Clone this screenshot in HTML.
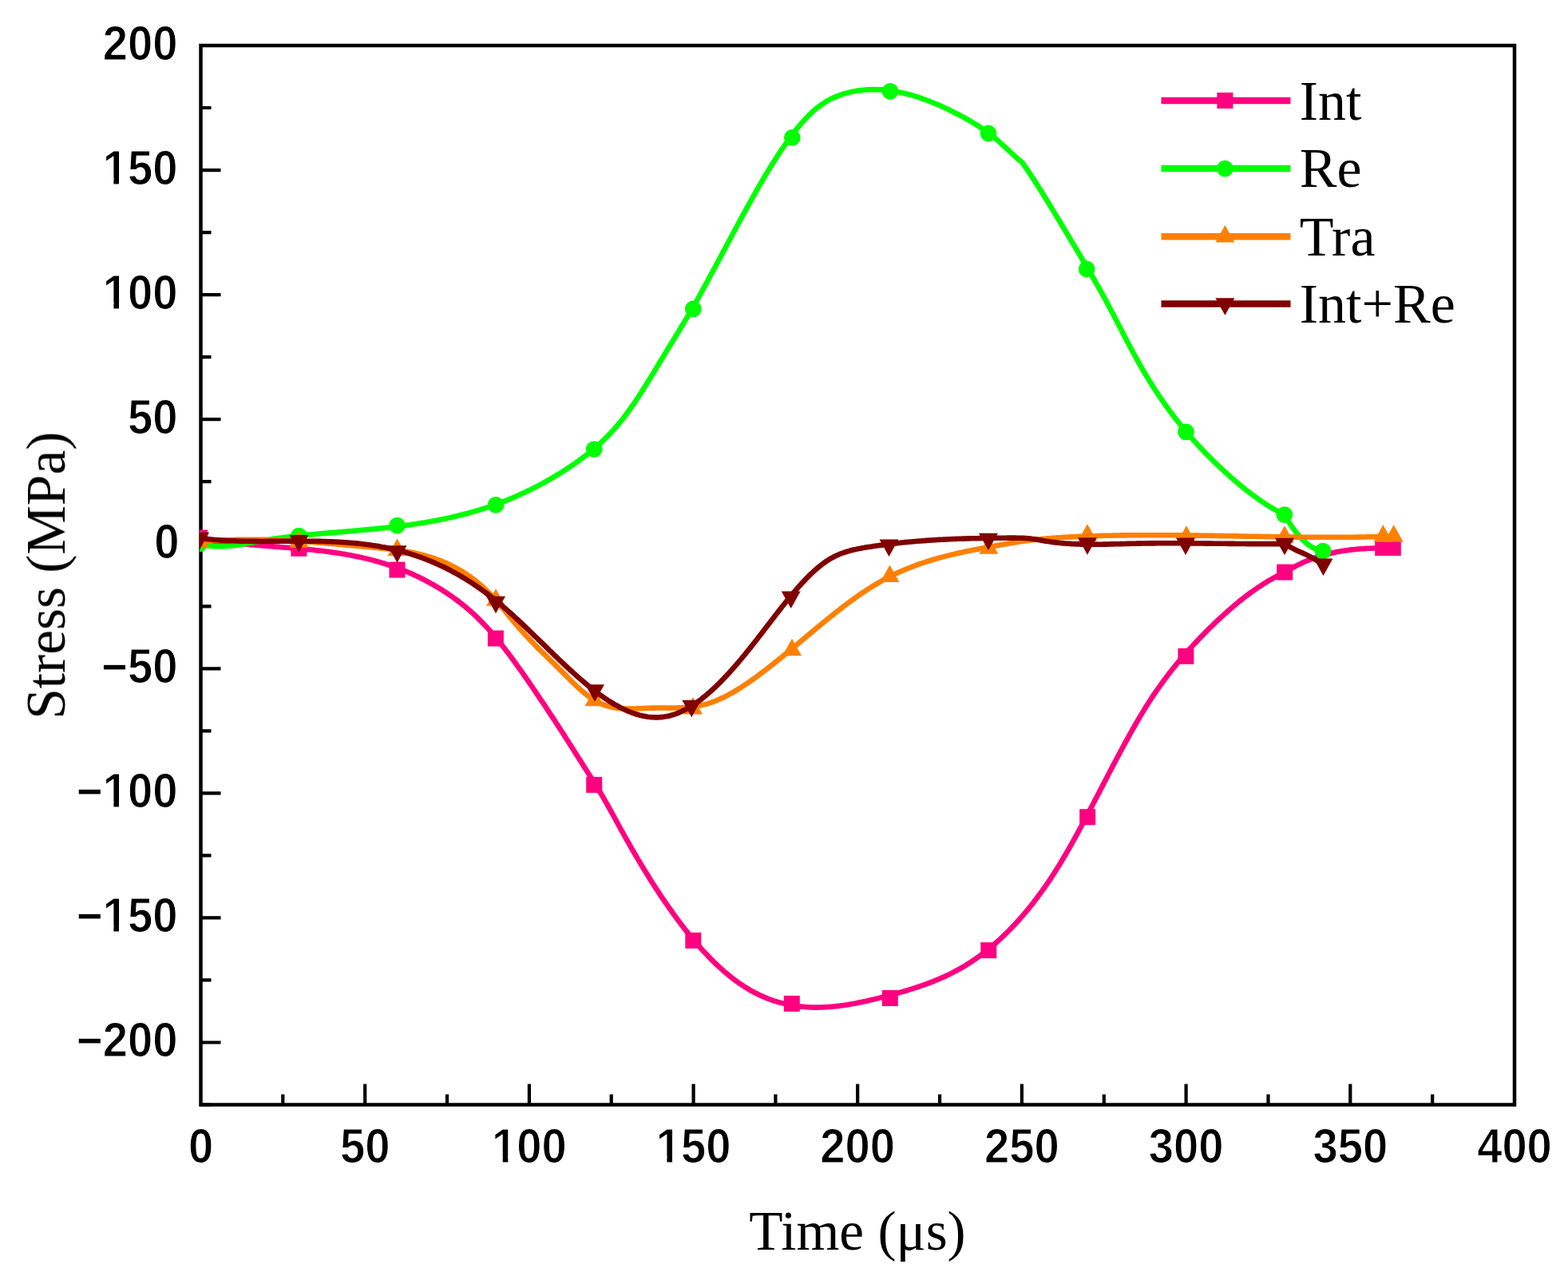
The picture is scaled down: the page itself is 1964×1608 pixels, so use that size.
<!DOCTYPE html>
<html><head><meta charset="utf-8"><title>Stress vs Time</title>
<style>html,body{margin:0;padding:0;background:#fff}svg{display:block}</style></head>
<body>
<svg width="1964" height="1608" viewBox="0 0 1964 1608">
<rect width="1964" height="1608" fill="#fff"/>
<path d="M251.5,1383.5h13 M251.5,1305.5h25 M251.5,1227.4h13 M251.5,1149.4h25 M251.5,1071.4h13 M251.5,993.4h25 M251.5,915.3h13 M251.5,837.3h25 M251.5,759.3h13 M251.5,681.2h25 M251.5,603.2h13 M251.5,525.2h25 M251.5,447.1h13 M251.5,369.1h25 M251.5,291.1h13 M251.5,213.1h25 M251.5,135.0h13 M251.5,57.0h25 M354.3,1383.5v-13 M457.2,1383.5v-26 M560.0,1383.5v-13 M662.9,1383.5v-26 M765.7,1383.5v-13 M868.6,1383.5v-26 M971.4,1383.5v-13 M1074.2,1383.5v-26 M1177.1,1383.5v-13 M1279.9,1383.5v-26 M1382.8,1383.5v-13 M1485.6,1383.5v-26 M1588.5,1383.5v-13 M1691.3,1383.5v-26 M1794.2,1383.5v-13" stroke="#000" stroke-width="4.2" fill="none"/>
<rect x="251.5" y="57.0" width="1645.5" height="1326.5" fill="none" stroke="#000" stroke-width="4.5"/>
<defs><clipPath id="pa"><rect x="250.0" y="57.0" width="1647.0" height="1326.5"/></clipPath></defs>
<g clip-path="url(#pa)">
<path d="M250.1,673.5 L252.1,673.9 L254.1,674.3 L256.1,674.6 L258.1,675.0 L260.1,675.3 L262.1,675.7 L264.1,676.0 L266.1,676.3 L268.1,676.6 L270.1,677.0 L272.1,677.3 L274.1,677.5 L276.1,677.8 L278.1,678.1 L280.1,678.4 L282.1,678.6 L284.1,678.9 L286.1,679.1 L288.1,679.4 L290.1,679.6 L292.1,679.9 L294.1,680.1 L296.1,680.3 L298.1,680.5 L300.1,680.7 L302.1,680.9 L304.1,681.1 L306.1,681.3 L308.1,681.5 L310.1,681.7 L312.1,681.9 L314.1,682.1 L316.1,682.3 L318.1,682.5 L320.1,682.6 L322.1,682.8 L324.1,683.0 L326.1,683.1 L328.1,683.3 L330.1,683.5 L332.1,683.6 L334.1,683.8 L336.1,683.9 L338.1,684.1 L340.1,684.3 L342.1,684.4 L344.1,684.6 L346.1,684.7 L348.1,684.9 L350.1,685.0 L352.1,685.2 L354.1,685.4 L356.1,685.5 L358.1,685.7 L360.1,685.8 L362.1,686.0 L364.1,686.2 L366.1,686.3 L368.1,686.5 L370.1,686.7 L372.1,686.8 L374.1,687.0 L376.1,687.2 L378.1,687.4 L380.1,687.5 L382.1,687.7 L384.1,687.9 L386.1,688.1 L388.1,688.3 L390.1,688.5 L392.1,688.7 L394.1,688.9 L396.1,689.2 L398.1,689.4 L400.1,689.6 L402.1,689.8 L404.1,690.1 L406.1,690.3 L408.1,690.6 L410.1,690.8 L412.1,691.1 L414.1,691.4 L416.1,691.6 L418.1,691.9 L420.1,692.2 L422.1,692.5 L424.1,692.8 L426.1,693.1 L428.1,693.5 L430.1,693.8 L432.1,694.1 L434.1,694.5 L436.1,694.8 L438.1,695.2 L440.1,695.6 L442.1,696.0 L444.1,696.4 L446.1,696.8 L448.1,697.2 L450.1,697.6 L452.1,698.0 L454.1,698.5 L456.1,698.9 L458.1,699.4 L460.1,699.9 L462.1,700.4 L464.1,700.9 L466.1,701.4 L468.1,701.9 L470.1,702.5 L472.1,703.0 L474.1,703.6 L476.1,704.2 L478.1,704.8 L480.1,705.4 L482.1,706.0 L484.1,706.6 L486.1,707.3 L488.1,707.9 L490.1,708.6 L492.1,709.3 L494.1,710.0 L496.1,710.7 L498.1,711.5 L500.1,712.2 L502.1,713.0 L504.1,713.8 L506.1,714.6 L508.1,715.4 L510.1,716.2 L512.1,717.1 L514.1,717.9 L516.1,718.8 L518.1,719.7 L520.1,720.7 L522.1,721.6 L524.1,722.5 L526.1,723.5 L528.1,724.5 L530.1,725.5 L532.1,726.5 L534.1,727.6 L536.1,728.7 L538.1,729.7 L540.1,730.8 L542.1,732.0 L544.1,733.1 L546.1,734.3 L548.1,735.5 L550.1,736.7 L552.1,737.9 L554.1,739.1 L556.1,740.4 L558.1,741.7 L560.1,743.0 L562.1,744.4 L564.1,745.7 L566.1,747.1 L568.1,748.6 L570.1,750.0 L572.1,751.5 L574.1,753.0 L576.1,754.5 L578.1,756.1 L580.1,757.7 L582.1,759.3 L584.1,761.0 L586.1,762.7 L588.1,764.4 L590.1,766.2 L592.1,768.0 L594.1,769.8 L596.1,771.7 L598.1,773.6 L600.1,775.6 L602.1,777.6 L604.1,779.6 L606.1,781.7 L608.1,783.8 L610.1,785.9 L612.1,788.1 L614.1,790.4 L616.1,792.7 L618.1,795.0 L620.1,797.4 L622.1,799.8 L624.1,802.2 L626.1,804.7 L628.1,807.2 L630.1,809.7 L632.1,812.3 L634.1,814.9 L636.1,817.5 L638.1,820.1 L640.1,822.8 L642.1,825.5 L644.1,828.2 L646.1,831.0 L648.1,833.8 L650.1,836.6 L652.1,839.4 L654.1,842.2 L656.1,845.1 L658.1,847.9 L660.1,850.8 L662.1,853.7 L664.1,856.6 L666.1,859.5 L668.1,862.5 L670.1,865.4 L672.1,868.4 L674.1,871.3 L676.1,874.3 L678.1,877.3 L680.1,880.2 L682.1,883.2 L684.1,886.3 L686.1,889.3 L688.1,892.3 L690.1,895.3 L692.1,898.4 L694.1,901.4 L696.1,904.5 L698.1,907.6 L700.1,910.6 L702.1,913.7 L704.1,916.8 L706.1,919.9 L708.1,923.1 L710.1,926.2 L712.1,929.3 L714.1,932.5 L716.1,935.6 L718.1,938.8 L720.1,942.0 L722.1,945.1 L724.1,948.3 L726.1,951.4 L728.1,954.6 L730.1,957.8 L732.1,960.9 L734.1,964.0 L736.1,967.2 L738.1,970.3 L740.1,973.4 L742.1,976.6 L744.1,979.7 L746.1,982.9 L748.1,986.1 L750.1,989.4 L752.1,992.7 L754.1,996.1 L756.1,999.6 L758.1,1003.1 L760.1,1006.6 L762.1,1010.2 L764.1,1013.8 L766.1,1017.4 L768.1,1021.0 L770.1,1024.7 L772.1,1028.4 L774.1,1032.0 L776.1,1035.7 L778.1,1039.3 L780.1,1042.9 L782.1,1046.5 L784.1,1050.1 L786.1,1053.6 L788.1,1057.2 L790.1,1060.7 L792.1,1064.1 L794.1,1067.6 L796.1,1071.0 L798.1,1074.4 L800.1,1077.8 L802.1,1081.1 L804.1,1084.5 L806.1,1087.8 L808.1,1091.0 L810.1,1094.3 L812.1,1097.5 L814.1,1100.7 L816.1,1103.9 L818.1,1107.0 L820.1,1110.1 L822.1,1113.2 L824.1,1116.3 L826.1,1119.3 L828.1,1122.3 L830.1,1125.3 L832.1,1128.2 L834.1,1131.1 L836.1,1134.0 L838.1,1136.9 L840.1,1139.7 L842.1,1142.5 L844.1,1145.3 L846.1,1148.0 L848.1,1150.8 L850.1,1153.4 L852.1,1156.1 L854.1,1158.7 L856.1,1161.3 L858.1,1163.9 L860.1,1166.4 L862.1,1168.9 L864.1,1171.4 L866.1,1173.8 L868.1,1176.2 L870.1,1178.6 L872.1,1180.9 L874.1,1183.3 L876.1,1185.5 L878.1,1187.8 L880.1,1190.0 L882.1,1192.2 L884.1,1194.3 L886.1,1196.4 L888.1,1198.5 L890.1,1200.6 L892.1,1202.6 L894.1,1204.6 L896.1,1206.5 L898.1,1208.4 L900.1,1210.3 L902.1,1212.1 L904.1,1213.9 L906.1,1215.7 L908.1,1217.4 L910.1,1219.1 L912.1,1220.8 L914.1,1222.4 L916.1,1224.0 L918.1,1225.6 L920.1,1227.1 L922.1,1228.6 L924.1,1230.0 L926.1,1231.4 L928.1,1232.8 L930.1,1234.1 L932.1,1235.4 L934.1,1236.7 L936.1,1237.9 L938.1,1239.1 L940.1,1240.3 L942.1,1241.4 L944.1,1242.5 L946.1,1243.5 L948.1,1244.5 L950.1,1245.5 L952.1,1246.5 L954.1,1247.4 L956.1,1248.2 L958.1,1249.1 L960.1,1249.9 L962.1,1250.7 L964.1,1251.5 L966.1,1252.2 L968.1,1252.9 L970.1,1253.6 L972.1,1254.2 L974.1,1254.8 L976.1,1255.4 L978.1,1255.9 L980.1,1256.4 L982.1,1256.9 L984.1,1257.4 L986.1,1257.8 L988.1,1258.3 L990.1,1258.6 L992.1,1259.0 L994.1,1259.3 L996.1,1259.7 L998.1,1259.9 L1000.1,1260.2 L1002.1,1260.4 L1004.1,1260.7 L1006.1,1260.8 L1008.1,1261.0 L1010.1,1261.2 L1012.1,1261.3 L1014.1,1261.4 L1016.1,1261.5 L1018.1,1261.5 L1020.1,1261.6 L1022.1,1261.6 L1024.1,1261.6 L1026.1,1261.5 L1028.1,1261.5 L1030.1,1261.4 L1032.1,1261.4 L1034.1,1261.3 L1036.1,1261.1 L1038.1,1261.0 L1040.1,1260.9 L1042.1,1260.7 L1044.1,1260.5 L1046.1,1260.3 L1048.1,1260.1 L1050.1,1259.9 L1052.1,1259.6 L1054.1,1259.3 L1056.1,1259.1 L1058.1,1258.8 L1060.1,1258.5 L1062.1,1258.2 L1064.1,1257.8 L1066.1,1257.5 L1068.1,1257.1 L1070.1,1256.8 L1072.1,1256.4 L1074.1,1256.0 L1076.1,1255.6 L1078.1,1255.2 L1080.1,1254.8 L1082.1,1254.3 L1084.1,1253.9 L1086.1,1253.5 L1088.1,1253.0 L1090.1,1252.5 L1092.1,1252.1 L1094.1,1251.6 L1096.1,1251.1 L1098.1,1250.6 L1100.1,1250.1 L1102.1,1249.6 L1104.1,1249.1 L1106.1,1248.6 L1108.1,1248.1 L1110.1,1247.5 L1112.1,1247.0 L1114.1,1246.5 L1116.1,1245.9 L1118.1,1245.4 L1120.1,1244.8 L1122.1,1244.3 L1124.1,1243.7 L1126.1,1243.2 L1128.1,1242.6 L1130.1,1242.1 L1132.1,1241.5 L1134.1,1240.9 L1136.1,1240.3 L1138.1,1239.7 L1140.1,1239.1 L1142.1,1238.5 L1144.1,1237.8 L1146.1,1237.2 L1148.1,1236.5 L1150.1,1235.9 L1152.1,1235.2 L1154.1,1234.5 L1156.1,1233.8 L1158.1,1233.1 L1160.1,1232.4 L1162.1,1231.7 L1164.1,1230.9 L1166.1,1230.1 L1168.1,1229.4 L1170.1,1228.6 L1172.1,1227.7 L1174.1,1226.9 L1176.1,1226.1 L1178.1,1225.2 L1180.1,1224.3 L1182.1,1223.4 L1184.1,1222.5 L1186.1,1221.6 L1188.1,1220.6 L1190.1,1219.6 L1192.1,1218.6 L1194.1,1217.6 L1196.1,1216.5 L1198.1,1215.5 L1200.1,1214.4 L1202.1,1213.3 L1204.1,1212.1 L1206.1,1211.0 L1208.1,1209.8 L1210.1,1208.6 L1212.1,1207.3 L1214.1,1206.0 L1216.1,1204.8 L1218.1,1203.4 L1220.1,1202.1 L1222.1,1200.7 L1224.1,1199.3 L1226.1,1197.9 L1228.1,1196.4 L1230.1,1194.9 L1232.1,1193.4 L1234.1,1191.9 L1236.1,1190.3 L1238.1,1188.7 L1240.1,1187.0 L1242.1,1185.4 L1244.1,1183.7 L1246.1,1182.0 L1248.1,1180.2 L1250.1,1178.4 L1252.1,1176.6 L1254.1,1174.7 L1256.1,1172.9 L1258.1,1170.9 L1260.1,1169.0 L1262.1,1167.0 L1264.1,1165.0 L1266.1,1162.9 L1268.1,1160.9 L1270.1,1158.8 L1272.1,1156.6 L1274.1,1154.4 L1276.1,1152.2 L1278.1,1150.0 L1280.1,1147.7 L1282.1,1145.4 L1284.1,1143.0 L1286.1,1140.6 L1288.1,1138.2 L1290.1,1135.7 L1292.1,1133.2 L1294.1,1130.7 L1296.1,1128.1 L1298.1,1125.5 L1300.1,1122.8 L1302.1,1120.1 L1304.1,1117.4 L1306.1,1114.6 L1308.1,1111.8 L1310.1,1108.9 L1312.1,1106.0 L1314.1,1103.1 L1316.1,1100.1 L1318.1,1097.0 L1320.1,1093.9 L1322.1,1090.8 L1324.1,1087.6 L1326.1,1084.4 L1328.1,1081.1 L1330.1,1077.8 L1332.1,1074.4 L1334.1,1071.0 L1336.1,1067.6 L1338.1,1064.1 L1340.1,1060.6 L1342.1,1057.1 L1344.1,1053.5 L1346.1,1049.9 L1348.1,1046.3 L1350.1,1042.6 L1352.1,1038.9 L1354.1,1035.2 L1356.1,1031.5 L1358.1,1027.8 L1360.1,1024.0 L1362.1,1020.2 L1364.1,1016.4 L1366.1,1012.6 L1368.1,1008.8 L1370.1,1005.0 L1372.1,1001.1 L1374.1,997.3 L1376.1,993.4 L1378.1,989.6 L1380.1,985.7 L1382.1,981.9 L1384.1,978.0 L1386.1,974.2 L1388.1,970.3 L1390.1,966.5 L1392.1,962.7 L1394.1,958.8 L1396.1,955.0 L1398.1,951.3 L1400.1,947.5 L1402.1,943.7 L1404.1,940.0 L1406.1,936.3 L1408.1,932.6 L1410.1,928.9 L1412.1,925.3 L1414.1,921.6 L1416.1,918.0 L1418.1,914.5 L1420.1,911.0 L1422.1,907.5 L1424.1,904.0 L1426.1,900.6 L1428.1,897.2 L1430.1,893.9 L1432.1,890.6 L1434.1,887.3 L1436.1,884.1 L1438.1,880.9 L1440.1,877.8 L1442.1,874.7 L1444.1,871.7 L1446.1,868.7 L1448.1,865.8 L1450.1,862.9 L1452.1,860.1 L1454.1,857.3 L1456.1,854.5 L1458.1,851.8 L1460.1,849.1 L1462.1,846.4 L1464.1,843.8 L1466.1,841.2 L1468.1,838.7 L1470.1,836.2 L1472.1,833.7 L1474.1,831.3 L1476.1,828.8 L1478.1,826.5 L1480.1,824.1 L1482.1,821.8 L1484.1,819.5 L1486.1,817.2 L1488.1,815.0 L1490.1,812.8 L1492.1,810.6 L1494.1,808.4 L1496.1,806.2 L1498.1,804.1 L1500.1,802.0 L1502.1,799.9 L1504.1,797.8 L1506.1,795.8 L1508.1,793.7 L1510.1,791.7 L1512.1,789.7 L1514.1,787.7 L1516.1,785.7 L1518.1,783.8 L1520.1,781.9 L1522.1,779.9 L1524.1,778.0 L1526.1,776.1 L1528.1,774.3 L1530.1,772.4 L1532.1,770.6 L1534.1,768.8 L1536.1,767.0 L1538.1,765.2 L1540.1,763.4 L1542.1,761.7 L1544.1,760.0 L1546.1,758.3 L1548.1,756.6 L1550.1,755.0 L1552.1,753.3 L1554.1,751.7 L1556.1,750.1 L1558.1,748.6 L1560.1,747.0 L1562.1,745.5 L1564.1,744.0 L1566.1,742.5 L1568.1,741.1 L1570.1,739.6 L1572.1,738.2 L1574.1,736.9 L1576.1,735.5 L1578.1,734.2 L1580.1,732.9 L1582.1,731.6 L1584.1,730.3 L1586.1,729.1 L1588.1,727.9 L1590.1,726.7 L1592.1,725.6 L1594.1,724.5 L1596.1,723.4 L1598.1,722.3 L1600.1,721.3 L1602.1,720.3 L1604.1,719.3 L1606.1,718.3 L1608.1,717.4 L1609.0,717.0 L1611.0,715.7 L1613.0,714.5 L1615.0,713.3 L1617.0,712.2 L1619.0,711.1 L1621.0,710.0 L1623.0,708.9 L1625.0,707.9 L1627.0,706.9 L1629.0,706.0 L1631.0,705.0 L1633.0,704.1 L1635.0,703.2 L1637.0,702.4 L1639.0,701.6 L1641.0,700.8 L1643.0,700.0 L1645.0,699.3 L1647.0,698.6 L1649.0,697.9 L1651.0,697.2 L1653.0,696.6 L1655.0,696.0 L1657.0,695.4 L1659.0,694.8 L1661.0,694.3 L1663.0,693.8 L1665.0,693.3 L1667.0,692.8 L1669.0,692.4 L1671.0,691.9 L1673.0,691.5 L1675.0,691.1 L1677.0,690.7 L1679.0,690.4 L1681.0,690.1 L1683.0,689.7 L1685.0,689.4 L1687.0,689.2 L1689.0,688.9 L1691.0,688.6 L1693.0,688.4 L1695.0,688.2 L1697.0,688.0 L1699.0,687.8 L1701.0,687.6 L1703.0,687.5 L1705.0,687.3 L1707.0,687.2 L1709.0,687.1 L1711.0,686.9 L1713.0,686.8 L1715.0,686.8 L1717.0,686.7 L1719.0,686.6 L1721.0,686.5 L1723.0,686.5 L1725.0,686.5 L1727.0,686.4 L1729.0,686.4 L1731.0,686.4 L1733.0,686.4 L1735.0,686.4 L1737.0,686.4 L1739.0,686.4 L1741.0,686.4 L1743.0,686.4 L1744.8,686.4" stroke="#FF0080" fill="none" stroke-width="6.6" stroke-linejoin="round" stroke-linecap="round"/>
<g><rect x="240.1" y="663.5" width="20" height="20" fill="#FF0080"/><rect x="364.4" y="676.8" width="20" height="20" fill="#FF0080"/><rect x="487.5" y="703.6" width="20" height="20" fill="#FF0080"/><rect x="610.9" y="789.5" width="20" height="20" fill="#FF0080"/><rect x="734.2" y="972.9" width="20" height="20" fill="#FF0080"/><rect x="858.3" y="1167.8" width="20" height="20" fill="#FF0080"/><rect x="981.8" y="1246.9" width="20" height="20" fill="#FF0080"/><rect x="1104.8" y="1240.0" width="20" height="20" fill="#FF0080"/><rect x="1228.3" y="1180.1" width="20" height="20" fill="#FF0080"/><rect x="1352.2" y="1013.2" width="20" height="20" fill="#FF0080"/><rect x="1475.4" y="811.8" width="20" height="20" fill="#FF0080"/><rect x="1599.2" y="706.6" width="20" height="20" fill="#FF0080"/><rect x="1722.2" y="676.0" width="20" height="20" fill="#FF0080"/><rect x="1734.8" y="676.0" width="20" height="20" fill="#FF0080"/></g>
<path d="M250.1,681.0 L252.1,681.5 L254.1,682.0 L256.1,682.4 L258.1,682.8 L260.1,683.2 L262.1,683.4 L264.1,683.7 L266.1,683.9 L268.1,684.0 L270.1,684.1 L272.1,684.2 L274.1,684.3 L276.1,684.3 L278.1,684.2 L280.1,684.2 L282.1,684.1 L284.1,684.0 L286.1,683.8 L288.1,683.6 L290.1,683.4 L292.1,683.2 L294.1,683.0 L296.1,682.7 L298.1,682.4 L300.1,682.1 L302.1,681.8 L304.1,681.5 L306.1,681.2 L308.1,680.8 L310.1,680.5 L312.1,680.1 L314.1,679.7 L316.1,679.4 L318.1,679.0 L320.1,678.6 L322.1,678.3 L324.1,677.9 L326.1,677.5 L328.1,677.2 L330.1,676.8 L332.1,676.5 L334.1,676.2 L336.1,675.9 L338.1,675.5 L340.1,675.2 L342.1,674.9 L344.1,674.7 L346.1,674.4 L348.1,674.1 L350.1,673.8 L352.1,673.5 L354.1,673.3 L356.1,673.0 L358.1,672.8 L360.1,672.5 L362.1,672.3 L364.1,672.1 L366.1,671.8 L368.1,671.6 L370.1,671.4 L372.1,671.2 L374.1,671.0 L376.1,670.7 L378.1,670.5 L380.1,670.3 L382.1,670.1 L384.1,669.9 L386.1,669.8 L388.1,669.6 L390.1,669.4 L392.1,669.2 L394.1,669.0 L396.1,668.8 L398.1,668.6 L400.1,668.5 L402.1,668.3 L404.1,668.1 L406.1,667.9 L408.1,667.8 L410.1,667.6 L412.1,667.4 L414.1,667.2 L416.1,667.1 L418.1,666.9 L420.1,666.7 L422.1,666.6 L424.1,666.4 L426.1,666.2 L428.1,666.1 L430.1,665.9 L432.1,665.7 L434.1,665.6 L436.1,665.4 L438.1,665.2 L440.1,665.0 L442.1,664.9 L444.1,664.7 L446.1,664.5 L448.1,664.3 L450.1,664.2 L452.1,664.0 L454.1,663.8 L456.1,663.6 L458.1,663.4 L460.1,663.3 L462.1,663.1 L464.1,662.9 L466.1,662.7 L468.1,662.5 L470.1,662.3 L472.1,662.1 L474.1,661.9 L476.1,661.7 L478.1,661.5 L480.1,661.3 L482.1,661.1 L484.1,660.9 L486.1,660.6 L488.1,660.4 L490.1,660.2 L492.1,659.9 L494.1,659.7 L496.1,659.5 L498.1,659.2 L500.1,659.0 L502.1,658.7 L504.1,658.5 L506.1,658.2 L508.1,658.0 L510.1,657.7 L512.1,657.4 L514.1,657.1 L516.1,656.8 L518.1,656.5 L520.1,656.3 L522.1,656.0 L524.1,655.6 L526.1,655.3 L528.1,655.0 L530.1,654.7 L532.1,654.4 L534.1,654.0 L536.1,653.7 L538.1,653.3 L540.1,653.0 L542.1,652.6 L544.1,652.2 L546.1,651.9 L548.1,651.5 L550.1,651.1 L552.1,650.7 L554.1,650.3 L556.1,649.9 L558.1,649.5 L560.1,649.0 L562.1,648.6 L564.1,648.1 L566.1,647.7 L568.1,647.2 L570.1,646.8 L572.1,646.3 L574.1,645.8 L576.1,645.3 L578.1,644.8 L580.1,644.3 L582.1,643.8 L584.1,643.3 L586.1,642.7 L588.1,642.2 L590.1,641.6 L592.1,641.0 L594.1,640.5 L596.1,639.9 L598.1,639.3 L600.1,638.7 L602.1,638.1 L604.1,637.4 L606.1,636.8 L608.1,636.2 L610.1,635.5 L612.1,634.8 L614.1,634.1 L616.1,633.5 L618.1,632.8 L620.1,632.0 L622.1,631.3 L624.1,630.6 L626.1,629.8 L628.1,629.1 L630.1,628.3 L632.1,627.5 L634.1,626.7 L636.1,625.9 L638.1,625.1 L640.1,624.3 L642.1,623.4 L644.1,622.6 L646.1,621.7 L648.1,620.8 L650.1,620.0 L652.1,619.0 L654.1,618.1 L656.1,617.2 L658.1,616.3 L660.1,615.3 L662.1,614.3 L664.1,613.4 L666.1,612.4 L668.1,611.4 L670.1,610.4 L672.1,609.3 L674.1,608.3 L676.1,607.2 L678.1,606.1 L680.1,605.1 L682.1,604.0 L684.1,602.9 L686.1,601.7 L688.1,600.6 L690.1,599.4 L692.1,598.3 L694.1,597.1 L696.1,595.9 L698.1,594.7 L700.1,593.5 L702.1,592.2 L704.1,591.0 L706.1,589.7 L708.1,588.4 L710.1,587.1 L712.1,585.8 L714.1,584.5 L716.1,583.1 L718.1,581.8 L720.1,580.4 L722.1,579.0 L724.1,577.6 L726.1,576.2 L728.1,574.7 L730.1,573.2 L732.1,571.7 L734.1,570.2 L736.1,568.6 L738.1,567.0 L740.1,565.4 L742.1,563.7 L744.1,562.0 L746.1,560.3 L748.1,558.6 L750.1,556.8 L752.1,554.9 L754.1,553.1 L756.1,551.1 L758.1,549.2 L760.1,547.2 L762.1,545.1 L764.1,543.0 L766.1,540.9 L768.1,538.7 L770.1,536.5 L772.1,534.2 L774.1,531.8 L776.1,529.4 L778.1,527.0 L780.1,524.4 L782.1,521.9 L784.1,519.2 L786.1,516.5 L788.1,513.8 L790.1,511.0 L792.1,508.1 L794.1,505.2 L796.1,502.3 L798.1,499.3 L800.1,496.2 L802.1,493.1 L804.1,490.0 L806.1,486.9 L808.1,483.7 L810.1,480.5 L812.1,477.3 L814.1,474.0 L816.1,470.8 L818.1,467.5 L820.1,464.2 L822.1,460.9 L824.1,457.6 L826.1,454.3 L828.1,451.0 L830.1,447.7 L832.1,444.4 L834.1,441.1 L836.1,437.8 L838.1,434.5 L840.1,431.3 L842.1,428.0 L844.1,424.7 L846.1,421.5 L848.1,418.2 L850.1,414.9 L852.1,411.6 L854.1,408.3 L856.1,405.0 L858.1,401.6 L860.1,398.3 L862.1,394.9 L864.1,391.5 L866.1,388.1 L868.1,384.6 L870.1,381.1 L872.1,377.6 L874.1,374.0 L876.1,370.4 L878.1,366.8 L880.1,363.2 L882.1,359.6 L884.1,355.9 L886.1,352.2 L888.1,348.5 L890.1,344.8 L892.1,341.1 L894.1,337.4 L896.1,333.7 L898.1,329.9 L900.1,326.2 L902.1,322.4 L904.1,318.7 L906.1,314.9 L908.1,311.2 L910.1,307.4 L912.1,303.7 L914.1,299.9 L916.1,296.2 L918.1,292.5 L920.1,288.7 L922.1,285.0 L924.1,281.3 L926.1,277.6 L928.1,273.9 L930.1,270.2 L932.1,266.6 L934.1,262.9 L936.1,259.3 L938.1,255.7 L940.1,252.1 L942.1,248.5 L944.1,244.9 L946.1,241.4 L948.1,237.9 L950.1,234.4 L952.1,230.9 L954.1,227.5 L956.1,224.1 L958.1,220.7 L960.1,217.4 L962.1,214.1 L964.1,210.8 L966.1,207.5 L968.1,204.3 L970.1,201.2 L972.1,198.0 L974.1,194.9 L976.1,191.9 L978.1,188.9 L980.1,185.9 L982.1,183.0 L984.1,180.1 L986.1,177.2 L988.1,174.5 L990.1,171.7 L992.1,169.0 L994.1,166.4 L996.1,163.8 L998.1,161.3 L1000.1,158.9 L1002.1,156.5 L1004.1,154.2 L1006.1,151.9 L1008.1,149.7 L1010.1,147.6 L1012.1,145.5 L1014.1,143.5 L1016.1,141.6 L1018.1,139.7 L1020.1,137.9 L1022.1,136.3 L1024.1,134.6 L1026.1,133.1 L1028.1,131.6 L1030.1,130.2 L1032.1,128.9 L1034.1,127.6 L1036.1,126.4 L1038.1,125.3 L1040.1,124.3 L1042.1,123.3 L1044.1,122.3 L1046.1,121.4 L1048.1,120.6 L1050.1,119.8 L1052.1,119.1 L1054.1,118.4 L1056.1,117.7 L1058.1,117.1 L1060.1,116.6 L1062.1,116.1 L1064.1,115.6 L1066.1,115.1 L1068.1,114.7 L1070.1,114.3 L1072.1,114.0 L1074.1,113.6 L1076.1,113.4 L1078.1,113.1 L1080.1,112.9 L1082.1,112.7 L1084.1,112.5 L1086.1,112.4 L1088.1,112.3 L1090.1,112.2 L1092.1,112.1 L1094.1,112.1 L1096.1,112.1 L1098.1,112.1 L1100.1,112.2 L1102.1,112.3 L1104.1,112.4 L1106.1,112.6 L1108.1,112.7 L1110.1,112.9 L1112.1,113.1 L1114.1,113.4 L1116.1,113.7 L1118.1,114.0 L1120.1,114.3 L1122.1,114.6 L1124.1,115.0 L1126.1,115.4 L1128.1,115.8 L1130.1,116.2 L1132.1,116.7 L1134.1,117.2 L1136.1,117.7 L1138.1,118.2 L1140.1,118.7 L1142.1,119.3 L1144.1,119.9 L1146.1,120.5 L1148.1,121.1 L1150.1,121.7 L1152.1,122.4 L1154.1,123.1 L1156.1,123.8 L1158.1,124.5 L1160.1,125.2 L1162.1,126.0 L1164.1,126.8 L1166.1,127.6 L1168.1,128.4 L1170.1,129.2 L1172.1,130.0 L1174.1,130.9 L1176.1,131.7 L1178.1,132.6 L1180.1,133.5 L1182.1,134.4 L1184.1,135.4 L1186.1,136.3 L1188.1,137.2 L1190.1,138.2 L1192.1,139.2 L1194.1,140.2 L1196.1,141.2 L1198.1,142.2 L1200.1,143.2 L1202.1,144.3 L1204.1,145.3 L1206.1,146.4 L1208.1,147.5 L1210.1,148.6 L1212.1,149.7 L1214.1,150.9 L1216.1,152.1 L1218.1,153.3 L1220.1,154.5 L1222.1,155.7 L1224.1,157.0 L1226.1,158.3 L1228.1,159.6 L1230.1,161.0 L1232.1,162.4 L1234.1,163.8 L1236.1,165.2 L1238.1,166.7 L1240.1,168.2 L1242.1,169.8 L1244.1,171.4 L1246.1,173.0 L1248.1,174.6 L1250.1,176.3 L1252.1,178.1 L1254.1,179.9 L1256.1,181.7 L1258.1,183.5 L1260.1,185.3 L1262.1,187.2 L1264.1,189.0 L1266.1,190.9 L1268.1,192.7 L1270.1,194.6 L1272.1,196.4 L1274.1,198.2 L1276.1,199.9 L1278.1,201.6 L1280.1,203.3 L1280.4,203.5 L1282.4,206.4 L1284.4,209.3 L1286.4,212.2 L1288.4,215.1 L1290.4,218.1 L1292.4,221.2 L1294.4,224.2 L1296.4,227.3 L1298.4,230.4 L1300.4,233.5 L1302.4,236.7 L1304.4,239.8 L1306.4,243.0 L1308.4,246.3 L1310.4,249.5 L1312.4,252.7 L1314.4,256.0 L1316.4,259.3 L1318.4,262.6 L1320.4,265.9 L1322.4,269.2 L1324.4,272.5 L1326.4,275.8 L1328.4,279.1 L1330.4,282.5 L1332.4,285.8 L1334.4,289.2 L1336.4,292.5 L1338.4,295.8 L1340.4,299.2 L1342.4,302.5 L1344.4,305.8 L1346.4,309.2 L1348.4,312.5 L1350.4,315.9 L1352.4,319.2 L1354.4,322.6 L1356.4,326.0 L1358.4,329.3 L1360.4,332.7 L1362.4,336.1 L1364.4,339.6 L1366.4,343.0 L1368.4,346.5 L1370.4,350.0 L1372.4,353.5 L1374.4,357.0 L1376.4,360.5 L1378.4,364.1 L1380.4,367.7 L1382.4,371.4 L1384.4,375.0 L1386.4,378.7 L1388.4,382.5 L1390.4,386.2 L1392.4,390.0 L1394.4,393.8 L1396.4,397.7 L1398.4,401.5 L1400.4,405.4 L1402.4,409.2 L1404.4,413.1 L1406.4,417.0 L1408.4,420.8 L1410.4,424.7 L1412.4,428.5 L1414.4,432.3 L1416.4,436.0 L1418.4,439.8 L1420.4,443.5 L1422.4,447.2 L1424.4,450.8 L1426.4,454.4 L1428.4,457.9 L1430.4,461.3 L1432.4,464.8 L1434.4,468.1 L1436.4,471.5 L1438.4,474.8 L1440.4,478.0 L1442.4,481.2 L1444.4,484.4 L1446.4,487.5 L1448.4,490.5 L1450.4,493.5 L1452.4,496.5 L1454.4,499.5 L1456.4,502.4 L1458.4,505.2 L1460.4,508.1 L1462.4,510.8 L1464.4,513.6 L1466.4,516.3 L1468.4,519.0 L1470.4,521.6 L1472.4,524.2 L1474.4,526.8 L1476.4,529.3 L1478.4,531.8 L1480.4,534.3 L1482.4,536.7 L1484.4,539.1 L1486.4,541.5 L1488.4,543.8 L1490.4,546.2 L1492.4,548.4 L1494.4,550.7 L1496.4,552.9 L1498.4,555.1 L1500.4,557.3 L1502.4,559.5 L1504.4,561.6 L1506.4,563.7 L1508.4,565.8 L1510.4,567.8 L1512.4,569.9 L1514.4,571.9 L1516.4,573.9 L1518.4,575.9 L1520.4,577.8 L1522.4,579.8 L1524.4,581.7 L1526.4,583.6 L1528.4,585.5 L1530.4,587.3 L1532.4,589.2 L1534.4,591.0 L1536.4,592.8 L1538.4,594.6 L1540.4,596.4 L1542.4,598.2 L1544.4,599.9 L1546.4,601.7 L1548.4,603.4 L1550.4,605.1 L1552.4,606.8 L1554.4,608.4 L1556.4,610.0 L1558.4,611.7 L1560.4,613.3 L1562.4,614.8 L1564.4,616.4 L1566.4,617.9 L1568.4,619.4 L1570.4,620.9 L1572.4,622.4 L1574.4,623.8 L1576.4,625.2 L1578.4,626.6 L1580.4,628.0 L1582.4,629.3 L1584.4,630.7 L1586.4,632.0 L1588.4,633.2 L1590.4,634.5 L1592.4,635.7 L1594.4,636.9 L1596.4,638.0 L1598.4,639.2 L1600.4,640.3 L1602.4,641.4 L1604.4,642.4 L1606.4,643.4 L1608.4,644.4 L1608.8,644.6 L1610.8,648.0 L1612.8,651.3 L1614.8,654.5 L1616.8,657.5 L1618.8,660.4 L1620.8,663.2 L1622.8,665.8 L1624.8,668.3 L1626.8,670.7 L1628.8,673.0 L1630.8,675.1 L1632.8,677.0 L1634.8,678.9 L1636.8,680.6 L1638.8,682.2 L1640.8,683.6 L1642.8,684.9 L1644.8,686.0 L1646.8,687.1 L1648.8,687.9 L1650.8,688.7 L1652.8,689.3 L1654.8,689.7 L1656.8,690.1 L1657.1,690.1" stroke="#00FF00" fill="none" stroke-width="6.6" stroke-linejoin="round" stroke-linecap="round"/>
<g><circle cx="250.1" cy="681.0" r="10.4" fill="#00FF00"/><circle cx="374.4" cy="671.2" r="10.4" fill="#00FF00"/><circle cx="497.5" cy="658.1" r="10.4" fill="#00FF00"/><circle cx="621.0" cy="632.4" r="10.4" fill="#00FF00"/><circle cx="744.2" cy="562.6" r="10.4" fill="#00FF00"/><circle cx="868.3" cy="386.8" r="10.4" fill="#00FF00"/><circle cx="992.3" cy="172.3" r="10.4" fill="#00FF00"/><circle cx="1115.0" cy="114.3" r="10.4" fill="#00FF00"/><circle cx="1238.0" cy="167.0" r="10.4" fill="#00FF00"/><circle cx="1361.2" cy="337.0" r="10.4" fill="#00FF00"/><circle cx="1485.5" cy="540.8" r="10.4" fill="#00FF00"/><circle cx="1608.8" cy="644.6" r="10.4" fill="#00FF00"/><circle cx="1657.1" cy="690.1" r="10.4" fill="#00FF00"/></g>
<path d="M250.1,679.0 L252.1,678.8 L254.1,678.6 L256.1,678.4 L258.1,678.2 L260.1,678.0 L262.1,677.8 L264.1,677.7 L266.1,677.5 L268.1,677.3 L270.1,677.2 L272.1,677.1 L274.1,676.9 L276.1,676.8 L278.1,676.7 L280.1,676.6 L282.1,676.5 L284.1,676.4 L286.1,676.3 L288.1,676.2 L290.1,676.1 L292.1,676.0 L294.1,676.0 L296.1,675.9 L298.1,675.9 L300.1,675.8 L302.1,675.8 L304.1,675.8 L306.1,675.7 L308.1,675.7 L310.1,675.7 L312.1,675.7 L314.1,675.7 L316.1,675.7 L318.1,675.7 L320.1,675.7 L322.1,675.7 L324.1,675.8 L326.1,675.8 L328.1,675.8 L330.1,675.9 L332.1,675.9 L334.1,675.9 L336.1,676.0 L338.1,676.1 L340.1,676.1 L342.1,676.2 L344.1,676.3 L346.1,676.3 L348.1,676.4 L350.1,676.5 L352.1,676.6 L354.1,676.7 L356.1,676.8 L358.1,676.9 L360.1,677.0 L362.1,677.1 L364.1,677.2 L366.1,677.3 L368.1,677.4 L370.1,677.5 L372.1,677.7 L374.1,677.8 L376.1,677.9 L378.1,678.0 L380.1,678.2 L382.1,678.3 L384.1,678.5 L386.1,678.6 L388.1,678.7 L390.1,678.9 L392.1,679.0 L394.1,679.2 L396.1,679.4 L398.1,679.5 L400.1,679.7 L402.1,679.8 L404.1,680.0 L406.1,680.2 L408.1,680.3 L410.1,680.5 L412.1,680.7 L414.1,680.8 L416.1,681.0 L418.1,681.2 L420.1,681.3 L422.1,681.5 L424.1,681.7 L426.1,681.9 L428.1,682.1 L430.1,682.2 L432.1,682.4 L434.1,682.6 L436.1,682.8 L438.1,683.0 L440.1,683.1 L442.1,683.3 L444.1,683.5 L446.1,683.7 L448.1,683.9 L450.1,684.1 L452.1,684.2 L454.1,684.4 L456.1,684.6 L458.1,684.8 L460.1,685.0 L462.1,685.1 L464.1,685.3 L466.1,685.5 L468.1,685.7 L470.1,685.9 L472.1,686.0 L474.1,686.2 L476.1,686.4 L478.1,686.6 L480.1,686.8 L482.1,687.0 L484.1,687.2 L486.1,687.4 L488.1,687.7 L490.1,687.9 L492.1,688.1 L494.1,688.4 L496.1,688.7 L498.1,688.9 L500.1,689.2 L502.1,689.5 L504.1,689.8 L506.1,690.1 L508.1,690.4 L510.1,690.8 L512.1,691.1 L514.1,691.5 L516.1,691.9 L518.1,692.3 L520.1,692.7 L522.1,693.2 L524.1,693.6 L526.1,694.1 L528.1,694.6 L530.1,695.1 L532.1,695.7 L534.1,696.2 L536.1,696.8 L538.1,697.4 L540.1,698.0 L542.1,698.7 L544.1,699.4 L546.1,700.1 L548.1,700.8 L550.1,701.5 L552.1,702.3 L554.1,703.1 L556.1,704.0 L558.1,704.8 L560.1,705.7 L562.1,706.7 L564.1,707.6 L566.1,708.6 L568.1,709.6 L570.1,710.7 L572.1,711.7 L574.1,712.9 L576.1,714.0 L578.1,715.2 L580.1,716.4 L582.1,717.7 L584.1,719.0 L586.1,720.4 L588.1,721.7 L590.1,723.2 L592.1,724.6 L594.1,726.2 L596.1,727.7 L598.1,729.3 L600.1,731.0 L602.1,732.7 L604.1,734.5 L606.1,736.3 L608.1,738.1 L610.1,740.0 L612.1,742.0 L614.1,744.0 L616.1,746.1 L618.1,748.3 L620.1,750.5 L622.1,752.7 L624.1,755.0 L626.1,757.4 L628.1,759.8 L630.1,762.2 L632.1,764.7 L634.1,767.1 L636.1,769.6 L638.1,772.1 L640.1,774.5 L642.1,777.0 L644.1,779.4 L646.1,781.7 L648.1,784.1 L650.1,786.4 L652.1,788.6 L654.1,790.8 L656.1,793.0 L658.1,795.2 L660.1,797.4 L662.1,799.5 L664.1,801.6 L666.1,803.7 L668.1,805.7 L670.1,807.8 L672.1,809.8 L674.1,811.8 L676.1,813.8 L678.1,815.8 L680.1,817.7 L682.1,819.7 L684.1,821.7 L686.1,823.6 L688.1,825.6 L690.1,827.6 L692.1,829.5 L694.1,831.5 L696.1,833.4 L698.1,835.4 L700.1,837.4 L702.1,839.4 L704.1,841.4 L706.1,843.4 L708.1,845.4 L710.1,847.4 L712.1,849.4 L714.1,851.4 L716.1,853.4 L718.1,855.3 L720.1,857.2 L722.1,859.1 L724.1,861.0 L726.1,862.8 L728.1,864.6 L730.1,866.3 L732.1,868.0 L734.1,869.6 L736.1,871.2 L738.1,872.7 L740.1,874.1 L742.1,875.4 L744.1,876.7 L746.1,877.9 L748.1,879.0 L750.1,880.0 L752.1,880.9 L754.1,881.8 L756.1,882.6 L758.1,883.3 L760.1,883.9 L762.1,884.5 L764.1,885.0 L766.1,885.5 L768.1,885.9 L770.1,886.3 L772.1,886.6 L774.1,886.8 L776.1,887.1 L778.1,887.2 L780.1,887.4 L782.1,887.5 L784.1,887.6 L786.1,887.6 L788.1,887.6 L790.1,887.6 L792.1,887.6 L794.1,887.5 L796.1,887.5 L798.1,887.4 L800.1,887.3 L802.1,887.2 L804.1,887.1 L806.1,887.0 L808.1,886.9 L810.1,886.8 L812.1,886.8 L814.1,886.7 L816.1,886.6 L818.1,886.6 L820.1,886.6 L822.1,886.5 L824.1,886.5 L826.1,886.5 L828.1,886.5 L830.1,886.5 L832.1,886.5 L834.1,886.5 L836.1,886.6 L838.1,886.6 L840.1,886.6 L842.1,886.5 L844.1,886.5 L846.1,886.5 L848.1,886.5 L850.1,886.4 L852.1,886.4 L854.1,886.3 L856.1,886.2 L858.1,886.0 L860.1,885.9 L862.1,885.7 L864.1,885.5 L866.1,885.3 L868.1,885.1 L870.1,884.8 L872.1,884.5 L874.1,884.1 L876.1,883.8 L878.1,883.3 L880.1,882.9 L882.1,882.4 L884.1,881.9 L886.1,881.3 L888.1,880.7 L890.1,880.0 L892.1,879.3 L894.1,878.6 L896.1,877.8 L898.1,877.0 L900.1,876.1 L902.1,875.2 L904.1,874.3 L906.1,873.4 L908.1,872.4 L910.1,871.4 L912.1,870.3 L914.1,869.2 L916.1,868.1 L918.1,867.0 L920.1,865.8 L922.1,864.6 L924.1,863.4 L926.1,862.2 L928.1,860.9 L930.1,859.6 L932.1,858.3 L934.1,857.0 L936.1,855.7 L938.1,854.3 L940.1,852.9 L942.1,851.5 L944.1,850.0 L946.1,848.6 L948.1,847.1 L950.1,845.7 L952.1,844.2 L954.1,842.7 L956.1,841.2 L958.1,839.6 L960.1,838.1 L962.1,836.5 L964.1,835.0 L966.1,833.4 L968.1,831.8 L970.1,830.2 L972.1,828.6 L974.1,827.0 L976.1,825.4 L978.1,823.8 L980.1,822.2 L982.1,820.5 L984.1,818.9 L986.1,817.2 L988.1,815.6 L990.1,813.9 L992.1,812.3 L994.1,810.6 L996.1,808.9 L998.1,807.3 L1000.1,805.6 L1002.1,803.9 L1004.1,802.3 L1006.1,800.6 L1008.1,798.9 L1010.1,797.2 L1012.1,795.6 L1014.1,793.9 L1016.1,792.2 L1018.1,790.6 L1020.1,788.9 L1022.1,787.2 L1024.1,785.6 L1026.1,783.9 L1028.1,782.3 L1030.1,780.6 L1032.1,779.0 L1034.1,777.4 L1036.1,775.7 L1038.1,774.1 L1040.1,772.5 L1042.1,770.9 L1044.1,769.3 L1046.1,767.7 L1048.1,766.1 L1050.1,764.6 L1052.1,763.0 L1054.1,761.5 L1056.1,759.9 L1058.1,758.4 L1060.1,756.9 L1062.1,755.4 L1064.1,753.9 L1066.1,752.4 L1068.1,751.0 L1070.1,749.5 L1072.1,748.1 L1074.1,746.7 L1076.1,745.3 L1078.1,743.9 L1080.1,742.5 L1082.1,741.2 L1084.1,739.9 L1086.1,738.6 L1088.1,737.3 L1090.1,736.0 L1092.1,734.7 L1094.1,733.5 L1096.1,732.3 L1098.1,731.1 L1100.1,729.9 L1102.1,728.8 L1104.1,727.7 L1106.1,726.5 L1108.1,725.5 L1110.1,724.4 L1112.1,723.3 L1114.1,722.3 L1116.1,721.3 L1118.1,720.3 L1120.1,719.4 L1122.1,718.4 L1124.1,717.5 L1126.1,716.6 L1128.1,715.7 L1130.1,714.8 L1132.1,713.9 L1134.1,713.1 L1136.1,712.3 L1138.1,711.5 L1140.1,710.7 L1142.1,709.9 L1144.1,709.1 L1146.1,708.4 L1148.1,707.6 L1150.1,706.9 L1152.1,706.2 L1154.1,705.5 L1156.1,704.8 L1158.1,704.2 L1160.1,703.5 L1162.1,702.9 L1164.1,702.3 L1166.1,701.6 L1168.1,701.0 L1170.1,700.5 L1172.1,699.9 L1174.1,699.3 L1176.1,698.7 L1178.1,698.2 L1180.1,697.7 L1182.1,697.1 L1184.1,696.6 L1186.1,696.1 L1188.1,695.6 L1190.1,695.1 L1192.1,694.6 L1194.1,694.2 L1196.1,693.7 L1198.1,693.2 L1200.1,692.8 L1202.1,692.3 L1204.1,691.9 L1206.1,691.5 L1208.1,691.0 L1210.1,690.6 L1212.1,690.2 L1214.1,689.8 L1216.1,689.4 L1218.1,689.0 L1220.1,688.6 L1222.1,688.2 L1224.1,687.8 L1226.1,687.4 L1228.1,687.0 L1230.1,686.6 L1232.1,686.3 L1234.1,685.9 L1236.1,685.5 L1238.1,685.1 L1240.1,684.8 L1242.1,684.4 L1244.1,684.0 L1246.1,683.7 L1248.1,683.3 L1250.1,682.9 L1252.1,682.6 L1254.1,682.2 L1256.1,681.9 L1258.1,681.5 L1260.1,681.2 L1262.1,680.8 L1264.1,680.5 L1266.1,680.2 L1268.1,679.9 L1270.1,679.5 L1272.1,679.2 L1274.1,678.9 L1276.1,678.6 L1278.1,678.3 L1280.1,678.0 L1282.1,677.7 L1284.1,677.5 L1286.1,677.2 L1288.1,676.9 L1290.1,676.7 L1292.1,676.4 L1294.1,676.2 L1296.1,676.0 L1298.1,675.8 L1300.1,675.5 L1302.1,675.3 L1304.1,675.1 L1306.1,674.9 L1308.1,674.7 L1310.1,674.6 L1312.1,674.4 L1314.1,674.2 L1316.1,674.1 L1318.1,673.9 L1320.1,673.7 L1322.1,673.6 L1324.1,673.4 L1326.1,673.3 L1328.1,673.2 L1330.1,673.0 L1332.1,672.9 L1334.1,672.8 L1336.1,672.7 L1338.1,672.6 L1340.1,672.5 L1342.1,672.4 L1344.1,672.3 L1346.1,672.2 L1348.1,672.1 L1350.1,672.0 L1352.1,671.9 L1354.1,671.8 L1356.1,671.7 L1358.1,671.6 L1360.1,671.6 L1362.1,671.5 L1364.1,671.4 L1366.1,671.4 L1368.1,671.3 L1370.1,671.2 L1372.1,671.2 L1374.1,671.1 L1376.1,671.0 L1378.1,671.0 L1380.1,670.9 L1382.1,670.9 L1384.1,670.8 L1386.1,670.8 L1388.1,670.7 L1390.1,670.7 L1392.1,670.7 L1394.1,670.6 L1396.1,670.6 L1398.1,670.5 L1400.1,670.5 L1402.1,670.5 L1404.1,670.4 L1406.1,670.4 L1408.1,670.4 L1410.1,670.4 L1412.1,670.3 L1414.1,670.3 L1416.1,670.3 L1418.1,670.3 L1420.1,670.3 L1422.1,670.2 L1424.1,670.2 L1426.1,670.2 L1428.1,670.2 L1430.1,670.2 L1432.1,670.2 L1434.1,670.2 L1436.1,670.2 L1438.1,670.2 L1440.1,670.2 L1442.1,670.2 L1444.1,670.2 L1446.1,670.2 L1448.1,670.2 L1450.1,670.2 L1452.1,670.2 L1454.1,670.2 L1456.1,670.2 L1458.1,670.2 L1460.1,670.2 L1462.1,670.2 L1464.1,670.2 L1466.1,670.3 L1468.1,670.3 L1470.1,670.3 L1472.1,670.3 L1474.1,670.3 L1476.1,670.3 L1478.1,670.3 L1480.1,670.4 L1482.1,670.4 L1484.1,670.4 L1486.1,670.4 L1488.1,670.5 L1490.1,670.5 L1492.1,670.5 L1494.1,670.5 L1496.1,670.6 L1498.1,670.6 L1500.1,670.6 L1502.1,670.6 L1504.1,670.7 L1506.1,670.7 L1508.1,670.7 L1510.1,670.8 L1512.1,670.8 L1514.1,670.8 L1516.1,670.9 L1518.1,670.9 L1520.1,670.9 L1522.1,671.0 L1524.1,671.0 L1526.1,671.0 L1528.1,671.1 L1530.1,671.1 L1532.1,671.1 L1534.1,671.2 L1536.1,671.2 L1538.1,671.2 L1540.1,671.3 L1542.1,671.3 L1544.1,671.3 L1546.1,671.4 L1548.1,671.4 L1550.1,671.4 L1552.1,671.5 L1554.1,671.5 L1556.1,671.6 L1558.1,671.6 L1560.1,671.6 L1562.1,671.7 L1564.1,671.7 L1566.1,671.7 L1568.1,671.8 L1570.1,671.8 L1572.1,671.8 L1574.1,671.9 L1576.1,671.9 L1578.1,671.9 L1580.1,672.0 L1582.1,672.0 L1584.1,672.0 L1586.1,672.1 L1588.1,672.1 L1590.1,672.1 L1592.1,672.2 L1594.1,672.2 L1596.1,672.2 L1598.1,672.3 L1600.1,672.3 L1602.1,672.3 L1604.1,672.4 L1606.1,672.4 L1608.1,672.4 L1610.1,672.4 L1612.1,672.5 L1614.1,672.5 L1616.1,672.5 L1618.1,672.5 L1620.1,672.6 L1622.1,672.6 L1624.1,672.6 L1626.1,672.6 L1628.1,672.7 L1630.1,672.7 L1632.1,672.7 L1634.1,672.7 L1636.1,672.7 L1638.1,672.7 L1640.1,672.8 L1642.1,672.8 L1644.1,672.8 L1646.1,672.8 L1648.1,672.8 L1650.1,672.8 L1652.1,672.8 L1654.1,672.8 L1656.1,672.8 L1658.1,672.8 L1660.1,672.8 L1662.1,672.8 L1664.1,672.8 L1666.1,672.8 L1668.1,672.8 L1670.1,672.8 L1672.1,672.8 L1674.1,672.8 L1676.1,672.8 L1678.1,672.8 L1680.1,672.8 L1682.1,672.8 L1684.1,672.8 L1686.1,672.8 L1688.1,672.7 L1690.1,672.7 L1692.1,672.7 L1694.1,672.7 L1696.1,672.7 L1698.1,672.6 L1700.1,672.6 L1702.1,672.6 L1704.1,672.6 L1706.1,672.5 L1708.1,672.5 L1710.1,672.5 L1712.1,672.4 L1714.1,672.4 L1716.1,672.3 L1718.1,672.3 L1720.1,672.3 L1722.1,672.2 L1724.1,672.2 L1726.1,672.1 L1728.1,672.1 L1730.1,672.0 L1732.1,671.9 L1734.1,671.9 L1736.1,671.8 L1738.1,671.8 L1740.1,671.7 L1742.1,671.6 L1744.1,671.6 L1745.7,671.5" stroke="#FF8000" fill="none" stroke-width="6.6" stroke-linejoin="round" stroke-linecap="round"/>
<g><polygon points="250.1,664.7 262.1,686.2 238.1,686.2" fill="#FF8000"/><polygon points="374.4,664.2 386.4,685.7 362.4,685.7" fill="#FF8000"/><polygon points="497.5,674.6 509.5,696.1 485.5,696.1" fill="#FF8000"/><polygon points="621.0,737.2 633.0,758.7 609.0,758.7" fill="#FF8000"/><polygon points="744.5,862.7 756.5,884.2 732.5,884.2" fill="#FF8000"/><polygon points="868.0,872.9 880.0,894.4 856.0,894.4" fill="#FF8000"/><polygon points="992.0,799.7 1004.0,821.2 980.0,821.2" fill="#FF8000"/><polygon points="1114.5,707.6 1126.5,729.1 1102.5,729.1" fill="#FF8000"/><polygon points="1238.3,672.2 1250.3,693.7 1226.3,693.7" fill="#FF8000"/><polygon points="1362.0,656.2 1374.0,677.7 1350.0,677.7" fill="#FF8000"/><polygon points="1486.0,658.2 1498.0,679.7 1474.0,679.7" fill="#FF8000"/><polygon points="1609.0,658.2 1621.0,679.7 1597.0,679.7" fill="#FF8000"/><polygon points="1732.4,657.2 1744.4,678.7 1720.4,678.7" fill="#FF8000"/><polygon points="1745.7,657.2 1757.7,678.7 1733.7,678.7" fill="#FF8000"/></g>
<path d="M250.1,674.0 L252.1,674.3 L254.1,674.5 L256.1,674.7 L258.1,674.9 L260.1,675.1 L262.1,675.3 L264.1,675.5 L266.1,675.7 L268.1,675.9 L270.1,676.0 L272.1,676.2 L274.1,676.3 L276.1,676.5 L278.1,676.6 L280.1,676.7 L282.1,676.9 L284.1,677.0 L286.1,677.1 L288.1,677.2 L290.1,677.2 L292.1,677.3 L294.1,677.4 L296.1,677.5 L298.1,677.5 L300.1,677.6 L302.1,677.7 L304.1,677.7 L306.1,677.7 L308.1,677.8 L310.1,677.8 L312.1,677.8 L314.1,677.9 L316.1,677.9 L318.1,677.9 L320.1,677.9 L322.1,677.9 L324.1,678.0 L326.1,678.0 L328.1,678.0 L330.1,678.0 L332.1,678.0 L334.1,678.0 L336.1,677.9 L338.1,677.9 L340.1,677.9 L342.1,677.9 L344.1,677.9 L346.1,677.9 L348.1,677.9 L350.1,677.9 L352.1,677.8 L354.1,677.8 L356.1,677.8 L358.1,677.8 L360.1,677.8 L362.1,677.8 L364.1,677.8 L366.1,677.8 L368.1,677.7 L370.1,677.7 L372.1,677.7 L374.1,677.7 L376.1,677.7 L378.1,677.7 L380.1,677.7 L382.1,677.7 L384.1,677.7 L386.1,677.7 L388.1,677.7 L390.1,677.8 L392.1,677.8 L394.1,677.8 L396.1,677.8 L398.1,677.9 L400.1,677.9 L402.1,677.9 L404.1,678.0 L406.1,678.0 L408.1,678.1 L410.1,678.2 L412.1,678.2 L414.1,678.3 L416.1,678.4 L418.1,678.5 L420.1,678.5 L422.1,678.6 L424.1,678.7 L426.1,678.9 L428.1,679.0 L430.1,679.1 L432.1,679.2 L434.1,679.4 L436.1,679.5 L438.1,679.7 L440.1,679.9 L442.1,680.0 L444.1,680.2 L446.1,680.4 L448.1,680.6 L450.1,680.8 L452.1,681.0 L454.1,681.3 L456.1,681.5 L458.1,681.8 L460.1,682.0 L462.1,682.3 L464.1,682.6 L466.1,682.9 L468.1,683.2 L470.1,683.5 L472.1,683.8 L474.1,684.1 L476.1,684.5 L478.1,684.9 L480.1,685.2 L482.1,685.6 L484.1,686.0 L486.1,686.4 L488.1,686.9 L490.1,687.3 L492.1,687.8 L494.1,688.2 L496.1,688.7 L498.1,689.2 L500.1,689.7 L502.1,690.2 L504.1,690.8 L506.1,691.3 L508.1,691.9 L510.1,692.5 L512.1,693.1 L514.1,693.7 L516.1,694.3 L518.1,695.0 L520.1,695.6 L522.1,696.3 L524.1,697.0 L526.1,697.7 L528.1,698.4 L530.1,699.1 L532.1,699.9 L534.1,700.7 L536.1,701.5 L538.1,702.3 L540.1,703.1 L542.1,703.9 L544.1,704.8 L546.1,705.7 L548.1,706.6 L550.1,707.5 L552.1,708.4 L554.1,709.3 L556.1,710.3 L558.1,711.3 L560.1,712.3 L562.1,713.3 L564.1,714.3 L566.1,715.4 L568.1,716.5 L570.1,717.5 L572.1,718.7 L574.1,719.8 L576.1,720.9 L578.1,722.1 L580.1,723.3 L582.1,724.5 L584.1,725.7 L586.1,727.0 L588.1,728.2 L590.1,729.5 L592.1,730.8 L594.1,732.2 L596.1,733.5 L598.1,734.9 L600.1,736.3 L602.1,737.7 L604.1,739.1 L606.1,740.6 L608.1,742.0 L610.1,743.5 L612.1,745.0 L614.1,746.6 L616.1,748.1 L618.1,749.7 L620.1,751.3 L622.1,752.9 L624.1,754.6 L626.1,756.3 L628.1,757.9 L630.1,759.7 L632.1,761.4 L634.1,763.1 L636.1,764.9 L638.1,766.7 L640.1,768.5 L642.1,770.3 L644.1,772.1 L646.1,773.9 L648.1,775.8 L650.1,777.6 L652.1,779.5 L654.1,781.4 L656.1,783.3 L658.1,785.2 L660.1,787.1 L662.1,789.0 L664.1,791.0 L666.1,792.9 L668.1,794.8 L670.1,796.8 L672.1,798.7 L674.1,800.6 L676.1,802.6 L678.1,804.5 L680.1,806.5 L682.1,808.4 L684.1,810.4 L686.1,812.3 L688.1,814.3 L690.1,816.2 L692.1,818.2 L694.1,820.1 L696.1,822.0 L698.1,823.9 L700.1,825.8 L702.1,827.8 L704.1,829.6 L706.1,831.5 L708.1,833.4 L710.1,835.3 L712.1,837.1 L714.1,839.0 L716.1,840.8 L718.1,842.6 L720.1,844.4 L722.1,846.2 L724.1,848.0 L726.1,849.7 L728.1,851.4 L730.1,853.2 L732.1,854.8 L734.1,856.5 L736.1,858.2 L738.1,859.8 L740.1,861.4 L742.1,863.0 L744.1,864.6 L746.1,866.1 L748.1,867.6 L750.1,869.1 L752.1,870.5 L754.1,872.0 L756.1,873.4 L758.1,874.7 L760.1,876.1 L762.1,877.4 L764.1,878.7 L766.1,879.9 L768.1,881.1 L770.1,882.3 L772.1,883.4 L774.1,884.5 L776.1,885.6 L778.1,886.6 L780.1,887.6 L782.1,888.6 L784.1,889.5 L786.1,890.4 L788.1,891.2 L790.1,892.0 L792.1,892.8 L794.1,893.5 L796.1,894.1 L798.1,894.8 L800.1,895.3 L802.1,895.9 L804.1,896.3 L806.1,896.8 L808.1,897.1 L810.1,897.5 L812.1,897.8 L814.1,898.0 L816.1,898.2 L818.1,898.3 L820.1,898.4 L822.1,898.4 L824.1,898.4 L826.1,898.3 L828.1,898.1 L830.1,897.9 L832.1,897.6 L834.1,897.3 L836.1,896.9 L838.1,896.5 L840.1,896.0 L842.1,895.4 L844.1,894.8 L846.1,894.1 L848.1,893.4 L850.1,892.6 L852.1,891.7 L854.1,890.8 L856.1,889.8 L858.1,888.8 L860.1,887.7 L862.1,886.6 L864.1,885.4 L866.1,884.2 L868.1,882.9 L870.1,881.6 L872.1,880.2 L874.1,878.8 L876.1,877.3 L878.1,875.8 L880.1,874.2 L882.1,872.6 L884.1,871.0 L886.1,869.3 L888.1,867.6 L890.1,865.8 L892.1,864.0 L894.1,862.1 L896.1,860.2 L898.1,858.3 L900.1,856.3 L902.1,854.3 L904.1,852.3 L906.1,850.2 L908.1,848.1 L910.1,846.0 L912.1,843.9 L914.1,841.7 L916.1,839.4 L918.1,837.2 L920.1,834.9 L922.1,832.6 L924.1,830.3 L926.1,827.9 L928.1,825.6 L930.1,823.2 L932.1,820.7 L934.1,818.3 L936.1,815.8 L938.1,813.4 L940.1,810.9 L942.1,808.3 L944.1,805.8 L946.1,803.3 L948.1,800.7 L950.1,798.1 L952.1,795.5 L954.1,792.9 L956.1,790.3 L958.1,787.7 L960.1,785.1 L962.1,782.5 L964.1,779.9 L966.1,777.3 L968.1,774.7 L970.1,772.1 L972.1,769.5 L974.1,766.9 L976.1,764.4 L978.1,761.8 L980.1,759.3 L982.1,756.8 L984.1,754.3 L986.1,751.8 L988.1,749.3 L990.1,746.9 L992.1,744.5 L994.1,742.1 L996.1,739.8 L998.1,737.5 L1000.1,735.2 L1002.1,733.0 L1004.1,730.8 L1006.1,728.6 L1008.1,726.5 L1010.1,724.4 L1012.1,722.4 L1014.1,720.4 L1016.1,718.4 L1018.1,716.6 L1020.1,714.7 L1022.1,713.0 L1024.1,711.2 L1026.1,709.6 L1028.1,708.0 L1030.1,706.4 L1032.1,705.0 L1034.1,703.5 L1036.1,702.2 L1038.1,700.9 L1040.1,699.7 L1042.1,698.6 L1044.1,697.5 L1046.1,696.5 L1048.1,695.6 L1050.1,694.7 L1052.1,693.8 L1054.1,693.0 L1056.1,692.3 L1058.1,691.6 L1060.1,691.0 L1062.1,690.4 L1064.1,689.8 L1066.1,689.3 L1068.1,688.8 L1070.1,688.3 L1072.1,687.9 L1074.1,687.4 L1076.1,687.1 L1078.1,686.7 L1080.1,686.3 L1082.1,686.0 L1084.1,685.6 L1086.1,685.3 L1088.1,685.0 L1090.1,684.7 L1092.1,684.4 L1094.1,684.1 L1096.1,683.8 L1098.1,683.5 L1100.1,683.2 L1102.1,682.9 L1104.1,682.7 L1106.1,682.4 L1108.1,682.1 L1110.1,681.9 L1112.1,681.6 L1114.1,681.4 L1116.1,681.1 L1118.1,680.9 L1120.1,680.6 L1122.1,680.4 L1124.1,680.2 L1126.1,680.0 L1128.1,679.7 L1130.1,679.5 L1132.1,679.3 L1134.1,679.1 L1136.1,678.9 L1138.1,678.7 L1140.1,678.5 L1142.1,678.4 L1144.1,678.2 L1146.1,678.0 L1148.1,677.8 L1150.1,677.7 L1152.1,677.5 L1154.1,677.4 L1156.1,677.2 L1158.1,677.1 L1160.1,676.9 L1162.1,676.8 L1164.1,676.6 L1166.1,676.5 L1168.1,676.4 L1170.1,676.2 L1172.1,676.1 L1174.1,676.0 L1176.1,675.9 L1178.1,675.8 L1180.1,675.7 L1182.1,675.6 L1184.1,675.5 L1186.1,675.4 L1188.1,675.3 L1190.1,675.2 L1192.1,675.1 L1194.1,675.0 L1196.1,675.0 L1198.1,674.9 L1200.1,674.8 L1202.1,674.8 L1204.1,674.7 L1206.1,674.6 L1208.1,674.6 L1210.1,674.5 L1212.1,674.4 L1214.1,674.4 L1216.1,674.3 L1218.1,674.3 L1220.1,674.2 L1222.1,674.2 L1224.1,674.2 L1226.1,674.1 L1228.1,674.1 L1230.1,674.0 L1232.1,674.0 L1234.1,674.0 L1236.1,673.9 L1238.1,673.9 L1240.1,673.9 L1242.1,673.8 L1244.1,673.8 L1246.1,673.8 L1248.1,673.8 L1250.1,673.8 L1252.1,673.7 L1254.1,673.7 L1256.1,673.7 L1258.1,673.7 L1260.1,673.7 L1262.1,673.6 L1264.1,673.6 L1266.1,673.6 L1268.1,673.6 L1270.1,673.6 L1272.1,673.6 L1274.1,673.7 L1276.1,673.7 L1278.1,673.8 L1280.1,673.8 L1282.1,673.9 L1284.1,674.0 L1286.1,674.2 L1288.1,674.3 L1290.1,674.5 L1292.1,674.8 L1294.1,675.0 L1296.1,675.3 L1298.1,675.6 L1300.1,676.0 L1302.1,676.3 L1304.1,676.7 L1306.1,677.1 L1308.1,677.4 L1310.1,677.7 L1312.1,678.0 L1314.1,678.3 L1316.1,678.6 L1318.1,678.9 L1320.1,679.1 L1322.1,679.4 L1324.1,679.6 L1326.1,679.8 L1328.1,680.0 L1330.1,680.2 L1332.1,680.4 L1334.1,680.5 L1336.1,680.7 L1338.1,680.8 L1340.1,680.9 L1342.1,681.1 L1344.1,681.2 L1346.1,681.3 L1348.1,681.4 L1350.1,681.4 L1352.1,681.5 L1354.1,681.6 L1356.1,681.6 L1358.1,681.6 L1360.1,681.7 L1362.1,681.7 L1364.1,681.7 L1366.1,681.7 L1368.1,681.7 L1370.1,681.7 L1372.1,681.7 L1374.1,681.7 L1376.1,681.7 L1378.1,681.7 L1380.1,681.7 L1382.1,681.6 L1384.1,681.6 L1386.1,681.6 L1388.1,681.5 L1390.1,681.5 L1392.1,681.4 L1394.1,681.4 L1396.1,681.3 L1398.1,681.3 L1400.1,681.2 L1402.1,681.2 L1404.1,681.1 L1406.1,681.1 L1408.1,681.0 L1410.1,681.0 L1412.1,680.9 L1414.1,680.9 L1416.1,680.8 L1418.1,680.8 L1420.1,680.7 L1422.1,680.7 L1424.1,680.6 L1426.1,680.6 L1428.1,680.6 L1430.1,680.5 L1432.1,680.5 L1434.1,680.5 L1436.1,680.5 L1438.1,680.4 L1440.1,680.4 L1442.1,680.4 L1444.1,680.4 L1446.1,680.4 L1448.1,680.3 L1450.1,680.3 L1452.1,680.3 L1454.1,680.3 L1456.1,680.3 L1458.1,680.3 L1460.1,680.3 L1462.1,680.3 L1464.1,680.3 L1466.1,680.3 L1468.1,680.3 L1470.1,680.3 L1472.1,680.3 L1474.1,680.3 L1476.1,680.3 L1478.1,680.3 L1480.1,680.3 L1482.1,680.3 L1484.1,680.3 L1486.1,680.4 L1488.1,680.4 L1490.1,680.4 L1492.1,680.4 L1494.1,680.4 L1496.1,680.4 L1498.1,680.5 L1500.1,680.5 L1502.1,680.5 L1504.1,680.5 L1506.1,680.5 L1508.1,680.5 L1510.1,680.6 L1512.1,680.6 L1514.1,680.6 L1516.1,680.6 L1518.1,680.6 L1520.1,680.7 L1522.1,680.7 L1524.1,680.7 L1526.1,680.7 L1528.1,680.8 L1530.1,680.8 L1532.1,680.8 L1534.1,680.8 L1536.1,680.8 L1538.1,680.9 L1540.1,680.9 L1542.1,680.9 L1544.1,680.9 L1546.1,680.9 L1548.1,681.0 L1550.1,681.0 L1552.1,681.0 L1554.1,681.0 L1556.1,681.0 L1558.1,681.0 L1560.1,681.0 L1562.1,681.1 L1564.1,681.1 L1566.1,681.1 L1568.1,681.1 L1570.1,681.1 L1572.1,681.1 L1574.1,681.1 L1576.1,681.1 L1578.1,681.1 L1580.1,681.1 L1582.1,681.1 L1584.1,681.1 L1586.1,681.1 L1588.1,681.1 L1590.1,681.1 L1592.1,681.1 L1594.1,681.1 L1596.1,681.1 L1598.1,681.1 L1600.1,681.1 L1602.1,681.1 L1604.1,681.0 L1606.1,681.0 L1608.1,681.0 L1609.0,681.0 L1611.0,682.2 L1613.0,683.3 L1615.0,684.5 L1617.0,685.6 L1619.0,686.6 L1621.0,687.7 L1623.0,688.7 L1625.0,689.7 L1627.0,690.6 L1629.0,691.4 L1631.0,692.3 L1633.0,693.2 L1635.0,694.1 L1637.0,695.1 L1639.0,696.1 L1641.0,697.2 L1643.0,698.2 L1645.0,699.3 L1647.0,700.5 L1649.0,701.6 L1651.0,702.8 L1653.0,704.0 L1655.0,705.2 L1657.0,706.5 L1657.5,706.8" stroke="#800000" fill="none" stroke-width="6.6" stroke-linejoin="round" stroke-linecap="round"/>
<g><polygon points="238.1,666.8 262.1,666.8 250.1,688.3" fill="#800000"/><polygon points="362.4,670.0 386.4,670.0 374.4,691.5" fill="#800000"/><polygon points="485.5,683.2 509.5,683.2 497.5,704.7" fill="#800000"/><polygon points="609.0,746.7 633.0,746.7 621.0,768.2" fill="#800000"/><polygon points="733.0,857.3 757.0,857.3 745.0,878.8" fill="#800000"/><polygon points="854.3,876.8 878.3,876.8 866.3,898.3" fill="#800000"/><polygon points="978.7,740.4 1002.7,740.4 990.7,761.9" fill="#800000"/><polygon points="1101.5,675.6 1125.5,675.6 1113.5,697.1" fill="#800000"/><polygon points="1226.0,667.8 1250.0,667.8 1238.0,689.3" fill="#800000"/><polygon points="1350.0,673.3 1374.0,673.3 1362.0,694.8" fill="#800000"/><polygon points="1473.0,673.6 1497.0,673.6 1485.0,695.1" fill="#800000"/><polygon points="1597.0,673.8 1621.0,673.8 1609.0,695.3" fill="#800000"/><polygon points="1645.5,699.6 1669.5,699.6 1657.5,721.1" fill="#800000"/></g>
</g>
<defs><mask id="one" maskUnits="userSpaceOnUse" x="0" y="0" width="1964" height="1608"><rect width="1964" height="1608" fill="#fff"/><rect x="131.2" y="1159.2" width="11.2" height="9.0" fill="#000"/><rect x="149.0" y="1159.2" width="10.6" height="9.0" fill="#000"/><rect x="131.2" y="1003.2" width="11.2" height="9.0" fill="#000"/><rect x="149.0" y="1003.2" width="10.6" height="9.0" fill="#000"/><rect x="131.2" y="378.9" width="11.2" height="9.0" fill="#000"/><rect x="149.0" y="378.9" width="10.6" height="9.0" fill="#000"/><rect x="131.2" y="222.9" width="11.2" height="9.0" fill="#000"/><rect x="149.0" y="222.9" width="10.6" height="9.0" fill="#000"/><rect x="618.5" y="1448.2" width="11.2" height="9.0" fill="#000"/><rect x="636.3" y="1448.2" width="10.6" height="9.0" fill="#000"/><rect x="824.2" y="1448.2" width="11.2" height="9.0" fill="#000"/><rect x="842.0" y="1448.2" width="10.6" height="9.0" fill="#000"/></mask></defs>
<g mask="url(#one)" font-family="Liberation Sans, Arial, sans-serif" font-weight="bold" font-size="61.4" fill="#000" stroke="#fff" stroke-width="1.1" paint-order="fill" stroke-linejoin="round"><text transform="translate(222.5,1323.1) scale(0.915,1)" text-anchor="end"><tspan dy="1">&#8722;</tspan><tspan dy="-1">200</tspan></text><text transform="translate(222.5,1167.0) scale(0.915,1)" text-anchor="end"><tspan dy="1">&#8722;</tspan><tspan dy="-1">150</tspan></text><text transform="translate(222.5,1011.0) scale(0.915,1)" text-anchor="end"><tspan dy="1">&#8722;</tspan><tspan dy="-1">100</tspan></text><text transform="translate(222.5,854.9) scale(0.915,1)" text-anchor="end"><tspan dy="1">&#8722;</tspan><tspan dy="-1">50</tspan></text><text transform="translate(224.5,698.8) scale(0.915,1)" text-anchor="end">0</text><text transform="translate(222.5,542.8) scale(0.915,1)" text-anchor="end">50</text><text transform="translate(222.5,386.7) scale(0.915,1)" text-anchor="end">100</text><text transform="translate(222.5,230.7) scale(0.915,1)" text-anchor="end">150</text><text transform="translate(222.5,74.6) scale(0.915,1)" text-anchor="end">200</text><text transform="translate(251.5,1456.0) scale(0.915,1)" text-anchor="middle">0</text><text transform="translate(457.2,1456.0) scale(0.915,1)" text-anchor="middle">50</text><text transform="translate(662.9,1456.0) scale(0.915,1)" text-anchor="middle">100</text><text transform="translate(868.6,1456.0) scale(0.915,1)" text-anchor="middle">150</text><text transform="translate(1074.2,1456.0) scale(0.915,1)" text-anchor="middle">200</text><text transform="translate(1279.9,1456.0) scale(0.915,1)" text-anchor="middle">250</text><text transform="translate(1485.6,1456.0) scale(0.915,1)" text-anchor="middle">300</text><text transform="translate(1691.3,1456.0) scale(0.915,1)" text-anchor="middle">350</text><text transform="translate(1897.0,1456.0) scale(0.915,1)" text-anchor="middle">400</text></g>
<g font-family="Liberation Serif, Times New Roman, serif" font-size="69.3" fill="#000">
<text x="1074" y="1565" text-anchor="middle">Time (&#956;s)</text>
<text transform="translate(81,720.7) rotate(-90)" text-anchor="middle">Stress (MPa)</text>
<text x="1627.8" y="149.8" font-size="70">Int</text>
<text x="1627.8" y="234" font-size="70">Re</text>
<text x="1627.8" y="320.2" font-size="70">Tra</text>
<text x="1627.8" y="404.3" font-size="70">Int+Re</text>
</g>
<line x1="1454.5" y1="125.9" x2="1616.5" y2="125.9" stroke="#FF0080" stroke-width="8.5"/>
<rect x="1524.4" y="115.9" width="20" height="20" fill="#FF0080"/>
<line x1="1454.5" y1="211.1" x2="1616.5" y2="211.1" stroke="#00FF00" stroke-width="8.5"/>
<circle cx="1534.4" cy="211.1" r="10.4" fill="#00FF00"/>
<line x1="1454.5" y1="296.3" x2="1616.5" y2="296.3" stroke="#FF8000" stroke-width="8.5"/>
<polygon points="1534.4,282.0 1546.4,303.5 1522.4,303.5" fill="#FF8000"/>
<line x1="1454.5" y1="380.4" x2="1616.5" y2="380.4" stroke="#800000" stroke-width="8.5"/>
<polygon points="1522.4,373.2 1546.4,373.2 1534.4,394.7" fill="#800000"/>
</svg></body></html>
